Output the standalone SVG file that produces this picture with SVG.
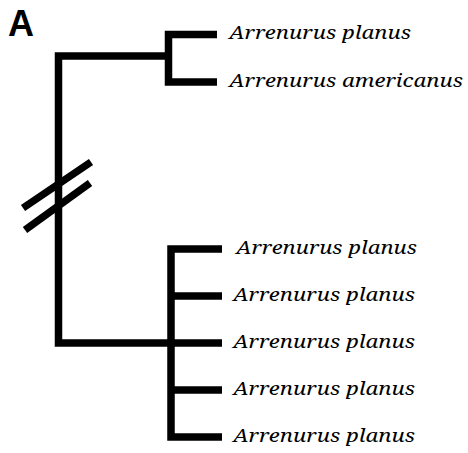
<svg xmlns="http://www.w3.org/2000/svg" width="468" height="453" viewBox="0 0 468 453">
  <style>
    .br { fill: none; stroke: #000; stroke-width: 7.5; stroke-linejoin: miter; stroke-linecap: butt; }
    .lbl { font-family: 'Noto Serif', 'DejaVu Serif', serif; font-style: italic; font-size: 18.5px; fill: #000; }
    .panel { font-family: 'Liberation Sans', Arial, sans-serif; font-weight: bold; font-size: 36px; fill: #000; }
  </style>
  <rect width="468" height="453" fill="#fff"/>
  <text class="panel" x="8" y="36">A</text>

  <g id="connectors">
    <!-- root: joins both clades -->
    <path class="br" d="M171,343 H58.5 V56 H168.5"/>
    <!-- break marks on the root branch -->
    <line class="br" x1="23" y1="208" x2="91" y2="162"/>
    <line class="br" x1="25" y1="230" x2="90" y2="183"/>
    <!-- upper clade -->
    <path class="br" d="M217,34.5 H168.5 V82 H217"/>
    <!-- lower clade -->
    <path class="br" d="M222,249 H171 V437 H222"/>
    <line class="br" x1="171" y1="296" x2="222" y2="296"/>
    <line class="br" x1="171" y1="343" x2="222" y2="343"/>
    <line class="br" x1="171" y1="390" x2="222" y2="390"/>
  </g>

  <g id="tip1"><text class="lbl" x="229" y="39" textLength="182" lengthAdjust="spacingAndGlyphs">Arrenurus planus</text></g>
  <g id="tip2"><text class="lbl" x="229" y="87" textLength="234" lengthAdjust="spacingAndGlyphs">Arrenurus americanus</text></g>
  <g id="tip3"><text class="lbl" x="236" y="254" textLength="181" lengthAdjust="spacingAndGlyphs">Arrenurus planus</text></g>
  <g id="tip4"><text class="lbl" x="233" y="301" textLength="182" lengthAdjust="spacingAndGlyphs">Arrenurus planus</text></g>
  <g id="tip5"><text class="lbl" x="233" y="348" textLength="182" lengthAdjust="spacingAndGlyphs">Arrenurus planus</text></g>
  <g id="tip6"><text class="lbl" x="233" y="395" textLength="182" lengthAdjust="spacingAndGlyphs">Arrenurus planus</text></g>
  <g id="tip7"><text class="lbl" x="233" y="442" textLength="182" lengthAdjust="spacingAndGlyphs">Arrenurus planus</text></g>
</svg>
